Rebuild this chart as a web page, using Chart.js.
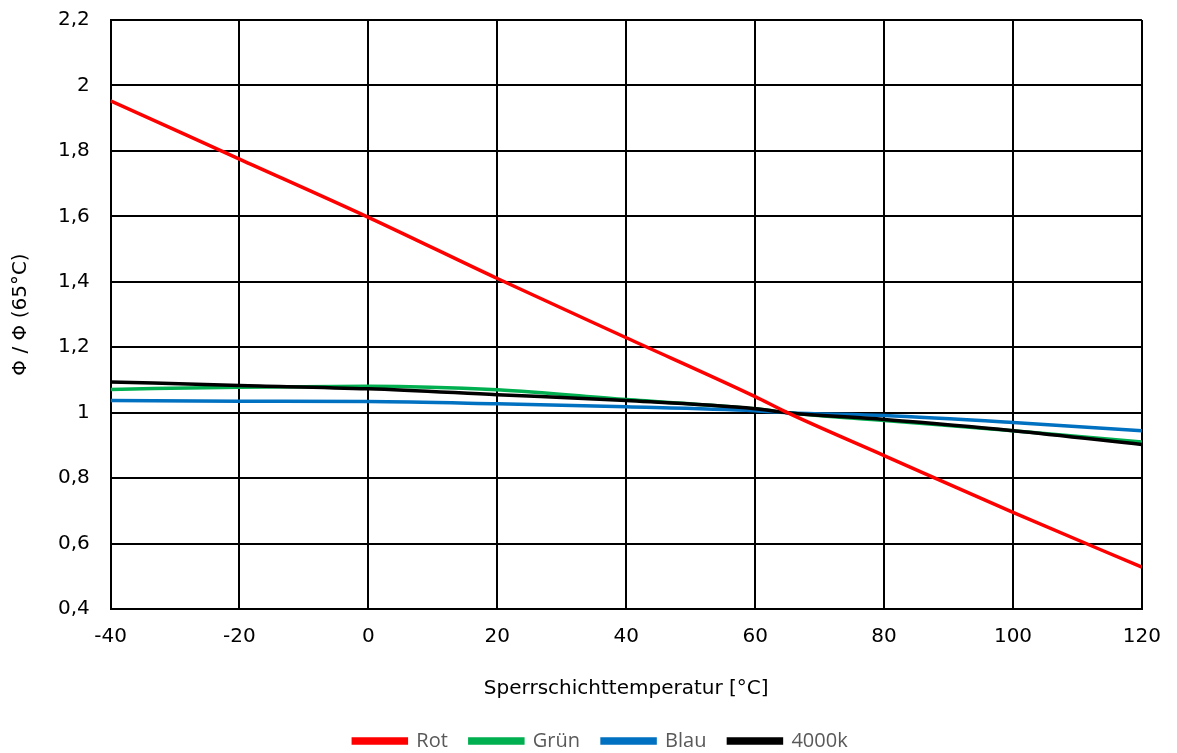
<!DOCTYPE html>
<html>
<head>
<meta charset="utf-8">
<script src="https://cdn.jsdelivr.net/npm/chart.js@4"></script>
<style>
  html, body { margin: 0; padding: 0; background: #fff; }
  #wrap { width: 1177px; height: 753px; position: relative; }
</style>
</head>
<body>
<div id="wrap"><canvas id="c"></canvas></div>
<script>
const temps = [-40, -20, 0, 20, 40, 60, 65, 80, 100, 120];
const rot   = [1.953, 1.775, 1.597, 1.410, 1.229, 1.049, 1.000, 0.869, 0.695, 0.528];
const gruen = [1.071, 1.078, 1.081, 1.070, 1.040, 1.012, 1.000, 0.976, 0.945, 0.910];
const blau  = [1.037, 1.035, 1.034, 1.027, 1.018, 1.006, 1.000, 0.991, 0.970, 0.945];
const k4000 = [1.094, 1.083, 1.073, 1.055, 1.037, 1.012, 1.000, 0.979, 0.945, 0.903];
const seriesNames = ['Rot', 'Grün', 'Blau', '4000k'];
const seriesColors = ['#ff0000', '#00b050', '#0070c0', '#000000'];
const drawOrder = [0, 3, 2, 1];
const xTitle = 'Sperrschichttemperatur [°C]';
const yTitle = 'Φ / Φ (65°C)';

const allSeries = [rot, gruen, blau, k4000];
const datasets = allSeries.map((vals, i) => ({
  label: seriesNames[i],
  data: temps.map((t, j) => ({ x: t, y: vals[j] })),
  borderColor: seriesColors[i],
  backgroundColor: seriesColors[i],
  borderWidth: 3.5,
  pointRadius: 0,
  order: drawOrder[i],
  tension: i === 0 ? 0.2 : 0.4,
  cubicInterpolationMode: 'monotone',
  fill: false
}));

const axisFont = { family: 'DejaVu Sans', size: 20 };

const legendShift = {
  id: 'legendShift',
  afterLayout(chart) {
    const lg = chart.legend;
    if (lg) { lg.left += 24; lg.right += 24; }
  }
};

new Chart(document.getElementById('c'), {
  type: 'line',
  data: { datasets },
  plugins: [legendShift],
  options: {
    responsive: true,
    maintainAspectRatio: false,
    animation: false,
    layout: { padding: { top: 0, right: 29, left: 5, bottom: -8 } },
    plugins: {
      legend: {
        position: 'bottom',
        labels: {
          boxWidth: 53,
          boxHeight: 4,
          padding: 22,
          color: '#595959',
          font: { family: 'Open Sans', size: 20 },
          sort: (a, b) => a.datasetIndex - b.datasetIndex
        }
      },
      tooltip: { enabled: false }
    },
    scales: {
      x: {
        type: 'linear',
        min: -40, max: 120,
        border: { color: '#000', width: 2 },
        grid: { color: '#000', lineWidth: 2, drawTicks: false },
        ticks: { stepSize: 20, color: '#000', font: axisFont, padding: 16 },
        title: { display: true, text: xTitle, color: '#000', font: { family: 'DejaVu Sans', size: 20 }, padding: { top: 12, bottom: 8 } }
      },
      y: {
        min: 0.4, max: 2.2,
        border: { color: '#000', width: 2 },
        grid: { color: '#000', lineWidth: 2, drawTicks: false },
        ticks: {
          stepSize: 0.2, color: '#000', font: axisFont, padding: 8,
          callback: v => String(Math.round(v * 10) / 10).replace('.', ',') + '  '
        },
        title: { display: true, text: yTitle, color: '#000', font: { family: 'DejaVu Sans', size: 20 }, padding: { bottom: 17 } }
      }
    }
  }
});
</script>
</body>
</html>
